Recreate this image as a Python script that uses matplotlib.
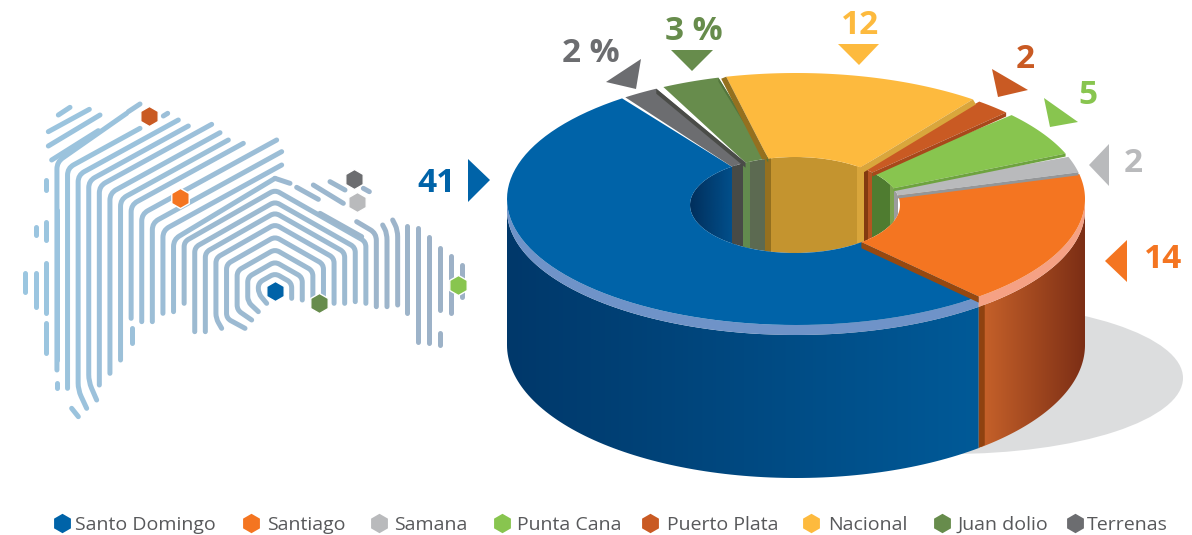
import numpy as np
import matplotlib.pyplot as plt
from matplotlib.colors import LinearSegmentedColormap
from matplotlib.patches import Polygon, Ellipse
from matplotlib.path import Path
from matplotlib.patches import PathPatch

# Chart data
names = ['Santo Domingo', 'Santiago', 'Samana', 'Punta Cana', 'Puerto Plata',
         'Nacional', 'Juan dolio', 'Terrenas']
values = [41, 14, 2, 5, 2, 12, 3, 2]
suffix = ['', '', '', '', '', '', ' %', ' %']
colors = ['#0063a8', '#f47521', '#b9babc', '#88c54f', '#c95a23', '#fdba3e', '#678c4c', '#6c6d70']
wall_colors = [None, None, '#9b9c9c', '#4f7c30', '#b35421', '#c4942f', '#5c6a51', '#474a46']
edge_colors = [None, '#96480f', '#949698', '#6ea33f', '#a8481b', '#d9a63c', '#54763d', '#4a4c48']
edge_offset = [None, (0, 6), (0, 3), (0, 3), (0, 4), (3, 5), (0, 4), (0, 5)]
legend_marker_x = [62, 251, 379, 502, 650, 811, 942, 1075]
legend_text_x = [75, 267, 394, 517, 667, 828, 957, 1087]

# Donut geometry, in picture pixels
CX, CY, RX, RY = 796, 199, 289, 126
HX, HY, HRX, HRY = 795, 205, 105, 48
RIM_CY, RIM_RY = 210, 125
BASE_CY, BASE_RY = 345, 133
START = 127.0
GAP = 0.8

# Map hexagons (same order as names)
map_hex = [(275, 291), (180, 198), (357, 202), (458, 285), (149, 116),
           (0, 0), (319, 303), (354, 179)]

# Map lines: zoomed coordinates, legs of the nested arches
left_bottom = [615, 640, 660, 680, 700, 725, 725, 640, 665, 670, 695, 695, 685,
               810, 850, 885, 880, 900, 895, 840]
right_bottom = [625, 630, 640, 625, 640, 640, 635, 640, 650, 650, 645]
line_b = [None] * 8 + [735, 690, 650, 606, 561, 527, 491, 452, 419, 384, 346, 310]
line_end = [None] * 8 + [(825, 265), (845, 225), (845, 185), (830, 150), (730, 160),
                         (685, 150), (660, 128), (635, 103), (565, 108), (535, 90),
                         (420, 115), (380, 70)]
apex_y = [550, 515, 478, 440, 403, 368, 335, 300]
hooks = [(800, 640), (775, 665), (755, 690), (735, 715), (665, 715), None, None, None]
left_tail = {16: (290, 930), 17: (260, 955)}
right_arcs = [
    [(1070, 395), (1129, 430), (1129, 650)],
    [(1148, 405), (1161, 430), (1161, 650)],
    [(1178, 390), (1193, 420), (1193, 645)],
]
map_extra = [
    [(138, 270), (138, 300)], [(138, 395), (138, 450)], [(138, 520), (138, 670)],
    [(138, 700), (138, 790)], [(107, 410), (107, 435)], [(107, 550), (107, 650)],
    [(75, 550), (75, 605)], [(170, 880), (170, 895)], [(395, 715), (395, 760)],
    [(215, 955), (235, 980)], [(145, 125), (268, 58)], [(145, 168), (300, 75)],
    [(175, 75), (210, 52)], [(385, 65), (420, 42)], [(490, 78), (503, 70)],
    [(155, 210), (295, 122)], [(825, 265), (870, 280)],
    [(890, 292), (955, 328)], [(960, 370), (1085, 440)], [(940, 285), (1030, 340)],
    [(990, 275), (1035, 300)], [(1090, 295), (1108, 305)],
    [(1222, 408), (1222, 670)], [(1255, 415), (1255, 755)], [(1288, 440), (1288, 760)],
    [(1320, 475), (1320, 660)], [(1320, 730), (1320, 765)], [(1352, 497), (1352, 670)],
    [(1385, 525), (1385, 620)],
]

plt.rcParams['font.family'] = ['Open Sans', 'DejaVu Sans']

fig = plt.figure(figsize=(11.92, 5.35), dpi=100)
ax = fig.add_axes([0, 0, 1, 1])
ax.set_xlim(0, 1192)
ax.set_ylim(535, 0)
ax.axis('off')


def z(p):
    return (p[0] / 3, 90 + p[1] / 3)


def rounded(points, r=5):
    # polyline with softened corners
    pts = [np.array(p, float) for p in points]
    verts = [pts[0]]
    codes = [Path.MOVETO]
    for i in range(1, len(pts) - 1):
        a, b, c = pts[i - 1], pts[i], pts[i + 1]
        ra = min(r, np.linalg.norm(b - a) / 2)
        rc = min(r, np.linalg.norm(c - b) / 2)
        p1 = b + (a - b) / np.linalg.norm(a - b) * ra
        p2 = b + (c - b) / np.linalg.norm(c - b) * rc
        verts += [p1, b, p2]
        codes += [Path.LINETO, Path.CURVE3, Path.CURVE3]
    verts.append(pts[-1])
    codes.append(Path.LINETO)
    return Path(verts, codes)


def map_color(x):
    f = min(max(x / 460, 0), 1)
    c0 = np.array([0x9b, 0xc7, 0xe2]) / 255
    c1 = np.array([0x9d, 0xb1, 0xc6]) / 255
    return c0 * (1 - f) + c1 * f


def draw_line(points, r=5):
    zp = [z(p) for p in points]
    ax.add_patch(PathPatch(rounded(zp, r), fill=False, lw=3.6, capstyle='round',
                           joinstyle='round', ec=map_color(np.mean([p[0] for p in zp])), zorder=1))


# fingerprint map
for k in range(8):
    w = 50 + 31.8 * k
    lx, rx = 825 - w, 825 + w
    sy = apex_y[k] + 0.57 * w
    pts = [(lx, left_bottom[k]), (lx, sy), (825, apex_y[k]), (rx, sy), (rx, right_bottom[k])]
    if hooks[k]:
        pts = [hooks[k]] + [(lx, hooks[k][1] - 30)] + pts[1:]
    draw_line(pts)
for k in range(8, 20):
    w = 50 + 31.8 * k
    lx = 825 - w
    pts = [(lx, left_bottom[k]), (lx, line_b[k] - 0.55 * lx), line_end[k]]
    if k in left_tail:
        pts = [left_tail[k], (lx, left_tail[k][1] - 55)] + pts[1:]
    draw_line(pts, 7)
for arc in right_arcs:
    draw_line(arc, 7)
draw_line([(170, 360), (170, 810)])
for seg in map_extra:
    draw_line(seg)

for i, (x, y) in enumerate(map_hex):
    if i != 5:
        ax.plot(x, y, 'h', ms=14.5, mfc=colors[i], mec='white', mew=1, zorder=2)

# slice angles from the values
total = sum(values)
angles = [START]
for v in values:
    angles.append(angles[-1] + v / total * 360)


def outer(t, cy=CY, ry=RY):
    t = np.radians(t)
    return CX + RX * np.cos(t), cy - ry * np.sin(t)


def inner(t):
    t = np.radians(t)
    return HX + HRX * np.cos(t), HY - HRY * np.sin(t)


def gradient(poly, x0, x1, c0, c1, zo):
    cmap = LinearSegmentedColormap.from_list('g', [c0, c1])
    ys = [p[1] for p in poly]
    im = ax.imshow(np.linspace(0, 1, 256)[None, :], cmap=cmap, aspect='auto',
                   extent=[x0, x1, max(ys), min(ys)], zorder=zo)
    patch = Polygon(poly, closed=True, transform=ax.transData, fc='none', ec='none')
    ax.add_patch(patch)
    im.set_clip_path(patch)


# floor shadow
ax.add_patch(Ellipse((950, 378), 466, 152, fc='#dcddde', ec='none', zorder=3))

# outer side walls
t_split = angles[1]
for t0, t1, xs, c0, c1 in [(180, t_split, (507, 981), '#00386a', '#015a98'),
                           (t_split, 360, (981, 1085), '#c7622a', '#7c2e15')]:
    ts = np.linspace(t0, t1, 100)
    top = [outer(t, RIM_CY, RIM_RY) for t in ts]
    bot = [outer(t, BASE_CY, BASE_RY) for t in ts[::-1]]
    gradient(top + bot, xs[0], xs[1], c0, c1, 4)
bx0, by0 = outer(t_split, RIM_CY, RIM_RY)
bx1, by1 = outer(t_split, BASE_CY, BASE_RY)
ax.add_patch(Polygon([(bx0, by0), (bx0 + 6, by0 - 2), (bx1 + 6, by1 - 3), (bx1, by1)],
                     fc='#8f4210', ec='none', zorder=5))

# lighter rim under the top face
for t0, t1, c in [(180, t_split, '#6f93c8'), (t_split, 360, '#f5a184')]:
    ts = np.linspace(t0, t1, 100)
    pts = [outer(t) for t in ts] + [outer(t, RIM_CY, RIM_RY) for t in ts[::-1]]
    ax.add_patch(Polygon(pts, fc=c, ec='none', zorder=5))

# inside of the hole
hole = Ellipse((HX, HY), 2 * HRX, 2 * HRY, fc='none', ec='none')
ax.add_patch(hole)
ts = np.linspace(0, 360, 200)
hole_poly = [inner(t) for t in ts]
gradient(hole_poly, 690, 736, '#012f5c', '#01528f', 6)
for i in range(2, len(values)):
    x0, x1 = inner(angles[i])[0], inner(angles[i + 1])[0]
    band = ax.fill_between([x1, x0], HY - 60, HY + 60, color=wall_colors[i], lw=0, zorder=7)
    band.set_clip_path(hole)
for x0, x1, c in [(743, 750, '#628a4e'), (765, 771, '#94701f'), (857, 864, '#d9a63c'),
                  (864, 868, '#833a10'), (890, 894, '#7ba24f')]:
    band = ax.fill_between([x0, x1], HY - 60, HY + 60, color=c, lw=0, zorder=8)
    band.set_clip_path(hole)

# top faces
for i in range(len(values)):
    a, b = angles[i], angles[i + 1]
    g0 = GAP if i >= 2 else 0
    g1 = GAP if i >= 2 else 0
    ts = np.linspace(a + g0, b - g1, 80)
    its = np.linspace(b, a, 40)
    pts = [outer(t) for t in ts] + [inner(t) for t in its]
    ax.add_patch(Polygon(pts, fc=colors[i], ec='none', zorder=9))

# cut faces along the slice edges
for i in range(1, len(values)):
    t = angles[i] + (GAP if i >= 2 else 0)
    dx, dy = edge_offset[i]
    p, q = outer(t), inner(angles[i])
    ax.add_patch(Polygon([p, q, (q[0] + dx, q[1] + dy), (p[0] + dx, p[1] + dy)],
                         fc=edge_colors[i], ec='none', zorder=10))
t = angles[6] - GAP
p, q = outer(t), inner(angles[6])
ax.add_patch(Polygon([p, q, (q[0] - 6, q[1] + 1), (p[0] - 5, p[1] + 2)],
                     fc='#94701f', ec='none', zorder=10))

# value labels and pointers
label_pos = [(436, 184), (1163, 260), (1133, 163), (1088, 95), (1025, 60),
             (860, 25), (694, 31), (591, 54)]
pointers = [
    [(468, 159), (490, 180), (468, 202)],
    [(1127, 240), (1105, 261), (1127, 282)],
    [(1109, 144), (1089, 165), (1109, 186)],
    [(1044, 98), (1078, 122), (1050, 127)],
    [(992, 69), (1028, 90), (998, 97)],
    [(838, 44), (879, 44), (859, 65)],
    [(671, 50), (713, 50), (692, 71)],
    [(641, 59), (606, 82), (636, 89)],
]
for i, (x, y) in enumerate(label_pos):
    ax.text(x, y, f'{values[i]}{suffix[i]}', color=colors[i], fontsize=24, fontweight='bold',
            ha='center', va='center', zorder=12)
    ax.add_patch(Polygon(pointers[i], fc=colors[i], ec='none', zorder=12))

# legend
for i, name in enumerate(names):
    ax.plot(legend_marker_x[i], 523, 'h', ms=14, mfc=colors[i], mec='none', zorder=12)
    ax.text(legend_text_x[i], 524.5, name, color='#58595b', fontsize=14, ha='left',
            va='center', zorder=12)

ax.set_xlim(0, 1192)
ax.set_ylim(535, 0)
fig.savefig('out.png', dpi=100)
